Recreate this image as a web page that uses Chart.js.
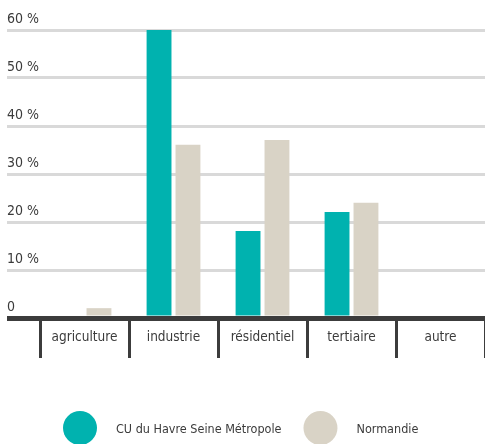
<!DOCTYPE html>
<html>
<head>
<meta charset="utf-8">
<script src="https://cdn.jsdelivr.net/npm/chart.js@4/dist/chart.umd.min.js"></script>
<style>
  html, body { margin: 0; padding: 0; background: #fff; }
  #wrap { width: 485px; height: 444px; }
</style>
</head>
<body>
<div id="wrap"><canvas id="consoChart"></canvas></div>
<script>
const sectors = ['agriculture', 'industrie', 'résidentiel', 'tertiaire', 'autre'];
const metropole = [0, 60, 18.1, 22.1, 0];
const normandie = [2.05, 36.1, 37.1, 24.0, 0];
const seriesNames = ['CU du Havre Seine Métropole', 'Normandie'];
const seriesColors = ['#00B2AF', '#D9D3C6'];
const yTicks = [0, 10, 20, 30, 40, 50, 60];

const FONT = "'Liberation Sans Narrow', 'DejaVu Sans Condensed', 'Open Sans', sans-serif";
const TEXT = '#3b3b3b';
const DARK = '#3c3c3c';

// round dots + names under the axis, taken from the datasets
const dotLegend = {
    id: 'dotLegend',
    afterDraw(chart) {
        const ctx = chart.ctx;
        const y = 428;
        let x = 63;
        ctx.save();
        ctx.font = '12.5px ' + FONT;
        ctx.textBaseline = 'middle';
        chart.data.datasets.forEach(ds => {
            ctx.fillStyle = ds.backgroundColor;
            ctx.beginPath();
            ctx.arc(x + 17, y, 17, 0, Math.PI * 2);
            ctx.fill();
            ctx.fillStyle = TEXT;
            ctx.fillText(ds.label, x + 53, y + 2);
            x += 53 + ctx.measureText(ds.label).width + 22;
        });
        ctx.restore();
    }
};

new Chart(document.getElementById('consoChart'), {
    type: 'bar',
    data: {
        labels: sectors,
        datasets: [
            { label: seriesNames[0], data: metropole, backgroundColor: seriesColors[0] },
            { label: seriesNames[1], data: normandie, backgroundColor: seriesColors[1] }
        ]
    },
    options: {
        responsive: true,
        maintainAspectRatio: false,
        animation: false,
        categoryPercentage: 0.65,
        barPercentage: 0.86,
        layout: { padding: { left: 7, right: 0, top: 30, bottom: 86 } },
        plugins: {
            legend: { display: false },
            tooltip: { enabled: false }
        },
        scales: {
            x: {
                offset: true,
                border: { display: false },
                grid: {
                    offset: true,
                    drawOnChartArea: false,
                    drawTicks: true,
                    tickLength: 40,
                    color: DARK,
                    lineWidth: 3
                },
                ticks: {
                    color: TEXT,
                    font: { family: FONT, size: 13.5 },
                    padding: -29,
                    maxRotation: 0
                },
                afterFit(scale) { scale.height = 40; }
            },
            y: {
                min: 0,
                max: 60,
                border: { display: false },
                afterBuildTicks(scale) { scale.ticks = yTicks.map(v => ({ value: v })); },
                afterFit(scale) { scale.width = 33; scale.paddingTop = 0; scale.paddingBottom = 0; },
                grid: {
                    drawTicks: true,
                    tickLength: 33,
                    color: c => c.tick && c.tick.value === 0 ? DARK : '#D9D9D9',
                    lineWidth: c => c.tick && c.tick.value === 0 ? 5 : 3
                },
                ticks: {
                    mirror: true,
                    padding: -33,
                    labelOffset: -11,
                    color: TEXT,
                    font: { family: FONT, size: 14 },
                    callback: v => v === 0 ? '0' : v + ' %'
                }
            }
        }
    },
    plugins: [dotLegend]
});
</script>
</body>
</html>
